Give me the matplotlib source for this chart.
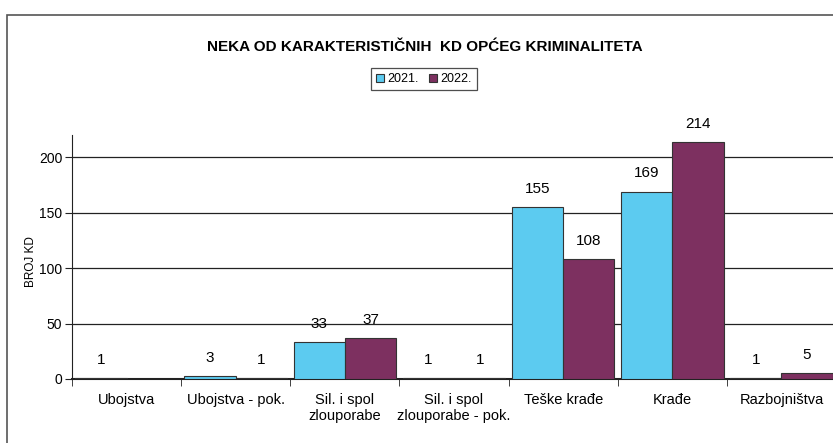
import numpy as np
import matplotlib.pyplot as plt
from matplotlib.patches import Rectangle

categories = ["Ubojstva", "Ubojstva - pok.", "Sil. i spol\nzlouporabe",
              "Sil. i spol\nzlouporabe - pok.", "Teške krađe", "Krađe", "Razbojništva"]
vals_2021 = [1, 3, 33, 1, 155, 169, 1]
vals_2022 = [0, 1, 37, 1, 108, 214, 5]
series_names = ["2021.", "2022."]

plt.rcParams['font.family'] = ['Liberation Sans', 'DejaVu Sans']

fig = plt.figure(figsize=(8.33, 4.43), dpi=100)
# outer chart border (scan crops right and bottom)
fig.patches.append(Rectangle((7 / 833, -0.05), 1.2, (443 - 15) / 443 + 0.05,
                             transform=fig.transFigure, fill=False,
                             edgecolor="#555555", linewidth=1.2))

ax = fig.add_axes([72 / 833, 64 / 443, 764 / 833, 244 / 443])
x = np.arange(len(categories))
w = 0.47
b1 = ax.bar(x - w / 2, vals_2021, w, color="#5ccbf0", edgecolor="#333333",
            linewidth=0.8, label=series_names[0], zorder=3)
b2 = ax.bar(x + w / 2, vals_2022, w, color="#7d3060", edgecolor="#333333",
            linewidth=0.8, label=series_names[1], zorder=3)

for bars, vals in ((b1, vals_2021), (b2, vals_2022)):
    for rect, v in zip(bars, vals):
        if v == 0:
            continue
        ax.annotate(str(v), (rect.get_x() + rect.get_width() / 2, v),
                    xytext=(0, 8), textcoords="offset points",
                    ha="center", va="bottom", fontsize=11)

ax.set_xlim(-0.5, len(categories) - 0.5)
ax.set_ylim(0, 220)
ax.set_yticks([0, 50, 100, 150, 200])
ax.yaxis.grid(True, color="#222222", linewidth=0.9)
ax.set_axisbelow(True)
ax.set_xticks(x)
ax.set_xticklabels(categories, fontsize=10.5)
ax.set_xticks(np.arange(len(categories) + 1) - 0.5, minor=True)
ax.tick_params(axis="x", which="major", length=0, pad=10)
ax.tick_params(axis="x", which="minor", length=5, color="#222222")
ax.tick_params(axis="y", labelsize=10, length=5, pad=2, color="#222222")
for s in ("top", "right"):
    ax.spines[s].set_visible(False)
ax.spines["left"].set_color("#222222")
ax.spines["bottom"].set_color("#222222")
ax.spines["bottom"].set_linewidth(1.5)

fig.text(31 / 833, 1 - 262 / 443, "BROJ KD", rotation=90, ha="center", va="center",
         fontsize=8.5)
fig.text(425 / 833, 1 - 47 / 443, "NEKA OD KARAKTERISTIČNIH  KD OPĆEG KRIMINALITETA",
         ha="center", va="center", fontsize=11, fontweight="bold")
leg = fig.legend(loc="center", bbox_to_anchor=(424 / 833, 1 - 79 / 443), ncol=2,
                 fontsize=9, frameon=True, fancybox=False, handlelength=0.6,
                 handleheight=0.6, handletextpad=0.3, columnspacing=0.8,
                 borderpad=0.4)
leg.get_frame().set_edgecolor("#222222")
leg.get_frame().set_linewidth(0.9)

fig.savefig("out.png", dpi=100)
